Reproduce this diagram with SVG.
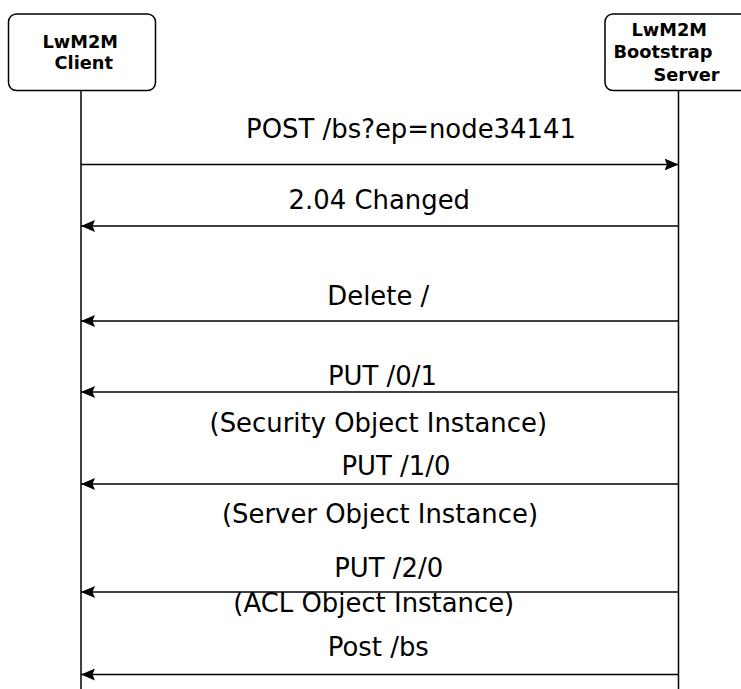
<svg xmlns="http://www.w3.org/2000/svg" width="741" height="689" viewBox="0 0 741 689">
  <style>
    .box { fill: #ffffff; stroke: #000000; stroke-width: 1.5; }
    .life { stroke: #000000; stroke-width: 1.5; fill: none; }
    .msg { stroke: #000000; stroke-width: 1.5; fill: none; marker-end: url(#arrow); }
    .hdr { font-family: "DejaVu Sans", Verdana, sans-serif; font-size: 17.8px; font-weight: bold; fill: #000000; }
    .lbl { font-family: "DejaVu Sans", Verdana, sans-serif; font-size: 25.9px; fill: #000000; text-anchor: middle; }
  </style>
  <defs>
    <marker id="arrow" markerUnits="userSpaceOnUse" markerWidth="14" markerHeight="12" viewBox="0 0 14 12" refX="14" refY="6" orient="auto">
      <path d="M0,0 L14,6 L0,12 L2.5,6 Z" fill="#000000"/>
    </marker>
  </defs>
  <rect width="741" height="689" fill="#ffffff"/>

  <g id="client">
    <line class="life" x1="81" y1="90.5" x2="81" y2="689"/>
    <rect class="box" x="8.5" y="14" width="147" height="76.5" rx="8" ry="8"/>
    <text class="hdr" x="42.5" y="47.5">LwM2M</text>
    <text class="hdr" x="54.5" y="68.5">Client</text>
  </g>

  <g id="server">
    <line class="life" x1="678.5" y1="90.5" x2="678.5" y2="689"/>
    <rect class="box" x="605" y="14" width="148" height="76.5" rx="8" ry="8"/>
    <text class="hdr" x="631.5" y="36">LwM2M</text>
    <text class="hdr" x="613.5" y="58">Bootstrap</text>
    <text class="hdr" x="653.5" y="80.5">Server</text>
  </g>

  <g id="connectors">
    <line class="msg" x1="81" y1="164.5" x2="678.5" y2="164.5"/>
    <line class="msg" x1="678.5" y1="226" x2="81" y2="226"/>
    <line class="msg" x1="678.5" y1="321" x2="81" y2="321"/>
    <line class="msg" x1="678.5" y1="392" x2="81" y2="392"/>
    <line class="msg" x1="678.5" y1="484" x2="81" y2="484"/>
    <line class="msg" x1="678.5" y1="592" x2="81" y2="592"/>
    <line class="msg" x1="678.5" y1="674.5" x2="81" y2="674.5"/>
  </g>

  <g id="labels">
    <text class="lbl" x="411" y="137.5">POST /bs?ep=node34141</text>
    <text class="lbl" x="379.3" y="209">2.04 Changed</text>
    <text class="lbl" x="378.3" y="305">Delete /</text>
    <text class="lbl" x="382.5" y="385">PUT /0/1</text>
    <text class="lbl" x="378.3" y="432">(Security Object Instance)</text>
    <text class="lbl" x="396" y="475">PUT /1/0</text>
    <text class="lbl" x="380" y="523">(Server Object Instance)</text>
    <text class="lbl" x="388.7" y="577">PUT /2/0</text>
    <text class="lbl" x="373.8" y="612">(ACL Object Instance)</text>
    <text class="lbl" x="378.3" y="656">Post /bs</text>
  </g>
</svg>
